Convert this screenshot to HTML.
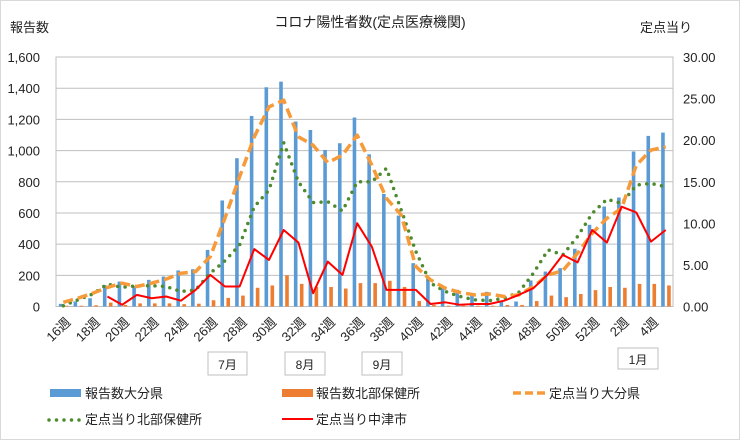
<!DOCTYPE html>
<html><head><meta charset="utf-8"><style>
html,body{margin:0;padding:0;background:#fff}
svg{display:block}
text{font-family:"Liberation Sans","Noto Sans CJK JP",sans-serif;fill:#222}
</style></head><body>
<svg id="c" width="740" height="440" xmlns="http://www.w3.org/2000/svg">
<rect x="0.5" y="0.5" width="739" height="439" fill="#fff" stroke="#d9d9d9"/>
<text x="370" y="27" font-size="14" text-anchor="middle">コロナ陽性者数(定点医療機関)</text>
<text x="10" y="32" font-size="13">報告数</text>
<text x="640" y="32" font-size="13">定点当り</text>
<g id="g"></g>
<g font-size="12">
<rect x="208" y="352" width="39" height="23" fill="#fff" stroke="#bfbfbf"/><text x="227.5" y="369" text-anchor="middle">7月</text>
<rect x="285" y="352" width="40" height="23" fill="#fff" stroke="#bfbfbf"/><text x="305" y="369" text-anchor="middle">8月</text>
<rect x="362" y="352" width="40" height="23" fill="#fff" stroke="#bfbfbf"/><text x="382" y="369" text-anchor="middle">9月</text>
<rect x="618" y="348" width="40" height="21" fill="#fff" stroke="#bfbfbf"/><text x="638" y="364" text-anchor="middle">1月</text>
</g>
<g font-size="13">
<rect x="50" y="389" width="31" height="8" fill="#5b9bd5"/><text x="85" y="398">報告数大分県</text>
<rect x="282" y="389" width="31" height="8" fill="#ed7d31"/><text x="316" y="398">報告数北部保健所</text>
<line x1="513" y1="393" x2="547" y2="393" stroke="#f79a3a" stroke-width="3.5" stroke-dasharray="8,4"/><text x="549" y="398">定点当り大分県</text>
<line x1="49" y1="420" x2="80" y2="420" stroke="#4e8a2e" stroke-width="3.5" stroke-dasharray="0,7.5" stroke-linecap="round"/><text x="85" y="424">定点当り北部保健所</text>
<line x1="282" y1="419" x2="313" y2="419" stroke="#ff0000" stroke-width="2"/><text x="316" y="424">定点当り中津市</text>
</g>
</svg>
<script>
var L=56,R=673,T=57,B=306.5,N=42,w=(R-L)/N;
var blue=[17,32,53,137,160,132,171,192,231,239,363,680,951,1222,1406,1442,1186,1132,1004,1047,1212,976,722,583,278,182,124,107,79,94,38,32,167,224,246,370,524,641,699,994,1094,1115];
var ora=[5,5,8,25,10,20,20,20,15,18,40,55,70,120,135,200,145,125,125,115,150,150,165,125,35,10,5,5,5,5,10,10,35,70,60,80,105,125,120,145,145,135];
var dash=[0.5,1.0,1.6,2.3,2.8,2.4,2.8,3.3,4.0,4.2,6.0,10.6,15.6,20.4,24.0,24.8,20.4,19.4,17.3,18.2,20.6,17.0,13.0,11.0,4.8,3.2,2.2,1.7,1.4,1.5,1.2,1.4,2.4,3.8,4.3,6.4,8.8,10.6,11.8,17.0,18.8,19.2];
var grn=[0.1,0.8,1.5,2.7,2.3,2.5,2.5,2.4,1.8,2.0,4.0,5.5,7.4,12,14,19.7,15,12.5,12.6,11.5,15,15,16.6,11.6,6.6,2.8,1.8,1.2,0.8,0.7,1.0,1.7,4.0,6.8,6.2,8.4,11.2,12.9,12.4,14.6,14.8,14.4];
var red=[null,null,null,1.2,0.2,1.4,1.0,1.2,0.7,2.0,3.8,2.4,2.4,6.9,5.6,9.2,7.7,1.6,5.4,3.8,10.0,7.2,2.0,2.0,2.0,0.3,0.5,0.2,0.3,0.3,0.7,1.4,2.2,3.9,6.2,5.3,9.2,7.7,12.0,11.3,7.8,9.2];
var s='';
function yl(v){return B-v/1600*(B-T)}
function yr(v){return B-v/30*(B-T)}
for(var i=0;i<=8;i++){var y=yl(i*200);
 if(i>0)s+='<line x1="'+L+'" y1="'+y+'" x2="'+R+'" y2="'+y+'" stroke="#bfbfbf"/>';
 s+='<text x="40" y="'+(y+5)+'" font-size="13" text-anchor="end">'+(i*200).toLocaleString('en-US')+'</text>';}
for(i=0;i<=6;i++){var y2=yr(i*5);
 s+='<text x="683" y="'+(y2+5)+'" font-size="13">'+(i*5).toFixed(2)+'</text>';}
s+='<rect x="'+L+'" y="'+T+'" width="'+(R-L)+'" height="'+(B-T)+'" fill="none" stroke="#bfbfbf"/>';
for(i=0;i<N;i++){var cx=L+w*(i+0.5);
 s+='<rect x="'+(cx-4.5)+'" y="'+yl(blue[i])+'" width="3.6" height="'+(B-yl(blue[i]))+'" fill="#5b9bd5"/>';
 s+='<rect x="'+(cx+1.5)+'" y="'+yl(ora[i])+'" width="3.6" height="'+(B-yl(ora[i]))+'" fill="#ed7d31"/>';
 if(i%2==0){var lab=i<=36?(16+i)+'週':(i-36)+'週';
  s+='<text font-size="13" text-anchor="end" transform="translate('+(cx+8)+',323) rotate(-45)">'+lab+'</text>';}}
function pl(d,col,sw,da,cap){var p=[];for(var i=0;i<N;i++){if(d[i]!=null)p.push((L+w*(i+0.5)).toFixed(1)+','+yr(d[i]).toFixed(1));}
 return '<polyline points="'+p.join(' ')+'" fill="none" stroke="'+col+'" stroke-width="'+sw+'"'+(da?' stroke-dasharray="'+da+'"':'')+(cap?' stroke-linecap="round"':'')+' stroke-linejoin="round"/>';}
s+=pl(grn,'#4e8a2e',3.5,'0,7.5',1);
s+=pl(dash,'#f79a3a',3.5,'10,5',0);
s+=pl(red,'#ff0000',2,null,0);
document.getElementById('g').innerHTML=s;
</script>
</body></html>
